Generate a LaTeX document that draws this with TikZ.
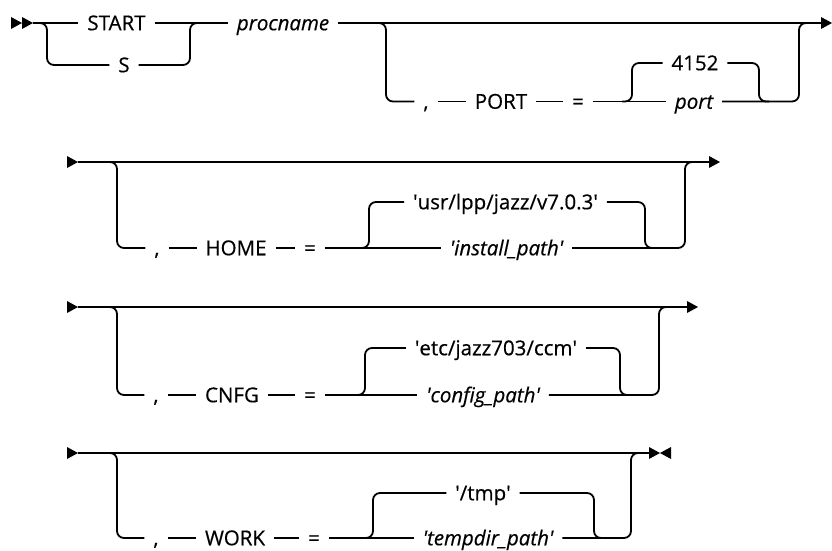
\documentclass[tikz,border=0pt]{standalone}
\usepackage{fontspec}
\setmainfont{Open Sans}[FakeBold=0.5]
\newcommand{\sq}{\textquotesingle}
\tikzset{
  rtip/.pic={\fill (-11,-6) -- (0,0) -- (-11,6) -- cycle;},
  ltip/.pic={\fill (11,-6) -- (0,0) -- (11,6) -- cycle;}
}
\begin{document}
\begin{tikzpicture}[x=1pt,y=-1pt,line width=1.8pt,
  lbl/.style={inner xsep=9pt,inner ysep=0pt,outer sep=0pt,text height=14.5pt,text depth=0pt,font=\fontsize{20.5}{24}\selectfont},
  var/.style={lbl,font=\fontsize{20.5}{24}\selectfont\itshape},
  rc/.style={rounded corners=7pt}]
\useasboundingbox (0,0) rectangle (832,551);

% ---------- Row 1 ----------
\pic at (22,23) {rtip};
\pic at (33,23) {rtip};
\coordinate (r1s) at (33,23);
\node[lbl] (start) at (116.5,23) {START};
\node[lbl] (s) at (124,65) {S};
\node[var] (procname) at (283,23) {procname};
\coordinate (a1) at (40,23);
\coordinate (a1l) at (47,65);
\coordinate (a1r) at (190,23);
\coordinate (a1e) at (200,23);
\coordinate (r1e) at (821,23);
\draw (r1s) -- (start.west);
\draw (start.east) -- (procname.west);
\draw[rc] (a1) -| (a1l) -- (s.west);
\draw[rc] (s.east) -| (a1r) -- (a1e);
\draw (procname.east) -- (r1e);
\pic at (832,23) {rtip};

\node[lbl] (c1) at (426,101.5) {,};
\node[lbl] (port) at (501,101.5) {PORT};
\node[lbl] (eq1) at (578,101.5) {=};
\node[lbl] (d4152) at (695,63) {4152};
\node[var] (pvar) at (694,101.5) {port};
\coordinate (b1) at (376,23);
\coordinate (b1l) at (386,101.5);
\coordinate (i1a) at (622,101.5);
\coordinate (i1l) at (632,63);
\coordinate (i1r) at (759,101.5);
\coordinate (i1b) at (769,101.5);
\coordinate (o1r) at (799,23);
\coordinate (o1b) at (809,23);
\draw[rc] (b1) -| (b1l) -- (c1.west);
\draw (c1.east) -- (port.west);
\draw (port.east) -- (eq1.west);
\draw (eq1.east) -- (pvar.west);
\draw[rc] (i1a) -| (i1l) -- (d4152.west);
\draw[rc] (d4152.east) -| (i1r) -- (i1b);
\draw[rc] (pvar.east) -| (o1r) -- (o1b);

% ---------- Row 2 ----------
\pic at (78,162) {rtip};
\coordinate (r2s) at (78,162);
\coordinate (r2e) at (709,162);
\draw (r2s) -- (r2e);
\pic at (720,162) {rtip};
\node[lbl] (c2) at (157,248) {,};
\node[lbl] (home) at (236,248) {HOME};
\node[lbl] (eq2) at (310,248) {=};
\node[lbl] (usr) at (505.5,202) {\sq usr/lpp/jazz/v7.0.3\sq};
\node[var] (inst) at (506.5,248) {\sq install\_path\sq};
\coordinate (b2) at (107,162);
\coordinate (b2l) at (117,248);
\coordinate (i2a) at (359,248);
\coordinate (i2l) at (369,202);
\coordinate (i2r) at (645,248);
\coordinate (i2b) at (655,248);
\coordinate (o2r) at (685,162);
\coordinate (o2b) at (695,162);
\draw[rc] (b2) -| (b2l) -- (c2.west);
\draw (c2.east) -- (home.west);
\draw (home.east) -- (eq2.west);
\draw (eq2.east) -- (inst.west);
\draw[rc] (i2a) -| (i2l) -- (usr.west);
\draw[rc] (usr.east) -| (i2r) -- (i2b);
\draw[rc] (inst.east) -| (o2r) -- (o2b);

% ---------- Row 3 ----------
\pic at (78,307) {rtip};
\coordinate (r3s) at (78,307);
\coordinate (r3e) at (687,307);
\draw (r3s) -- (r3e);
\pic at (698,307) {rtip};
\node[lbl] (c3) at (156,395) {,};
\node[lbl] (cnfg) at (232,395) {CNFG};
\node[lbl] (eq3) at (310,395) {=};
\node[lbl] (etc) at (496,348) {\sq etc/jazz703/ccm\sq};
\node[var] (conf) at (483,395) {\sq config\_path\sq};
\coordinate (b3) at (107,307);
\coordinate (b3l) at (117,395);
\coordinate (i3a) at (355,395);
\coordinate (i3l) at (365,348);
\coordinate (i3r) at (620,395);
\coordinate (i3b) at (630,395);
\coordinate (o3r) at (659,307);
\coordinate (o3b) at (669,307);
\draw[rc] (b3) -| (b3l) -- (c3.west);
\draw (c3.east) -- (cnfg.west);
\draw (cnfg.east) -- (eq3.west);
\draw (eq3.east) -- (conf.west);
\draw[rc] (i3a) -| (i3l) -- (etc.west);
\draw[rc] (etc.east) -| (i3r) -- (i3b);
\draw[rc] (conf.east) -| (o3r) -- (o3b);

% ---------- Row 4 ----------
\pic at (78,453) {rtip};
\coordinate (r4s) at (78,453);
\coordinate (r4e) at (649,453);
\draw (r4s) -- (r4e);
\pic at (660,453) {rtip};
\pic at (660,453) {ltip};
\node[lbl] (c4) at (156,538) {,};
\node[lbl] (work) at (235,538) {WORK};
\node[lbl] (eq4) at (314,538) {=};
\node[lbl] (tmp) at (483,493) {\sq/tmp\sq};
\node[var] (tdir) at (488,538) {\sq tempdir\_path\sq};
\coordinate (b4) at (107,453);
\coordinate (b4l) at (117,538);
\coordinate (i4a) at (363,538);
\coordinate (i4l) at (373,493);
\coordinate (i4r) at (594,538);
\coordinate (i4b) at (604,538);
\coordinate (o4r) at (631,453);
\coordinate (o4b) at (641,453);
\draw[rc] (b4) -| (b4l) -- (c4.west);
\draw (c4.east) -- (work.west);
\draw (work.east) -- (eq4.west);
\draw (eq4.east) -- (tdir.west);
\draw[rc] (i4a) -| (i4l) -- (tmp.west);
\draw[rc] (tmp.east) -| (i4r) -- (i4b);
\draw[rc] (tdir.east) -| (o4r) -- (o4b);
\end{tikzpicture}
\end{document}
